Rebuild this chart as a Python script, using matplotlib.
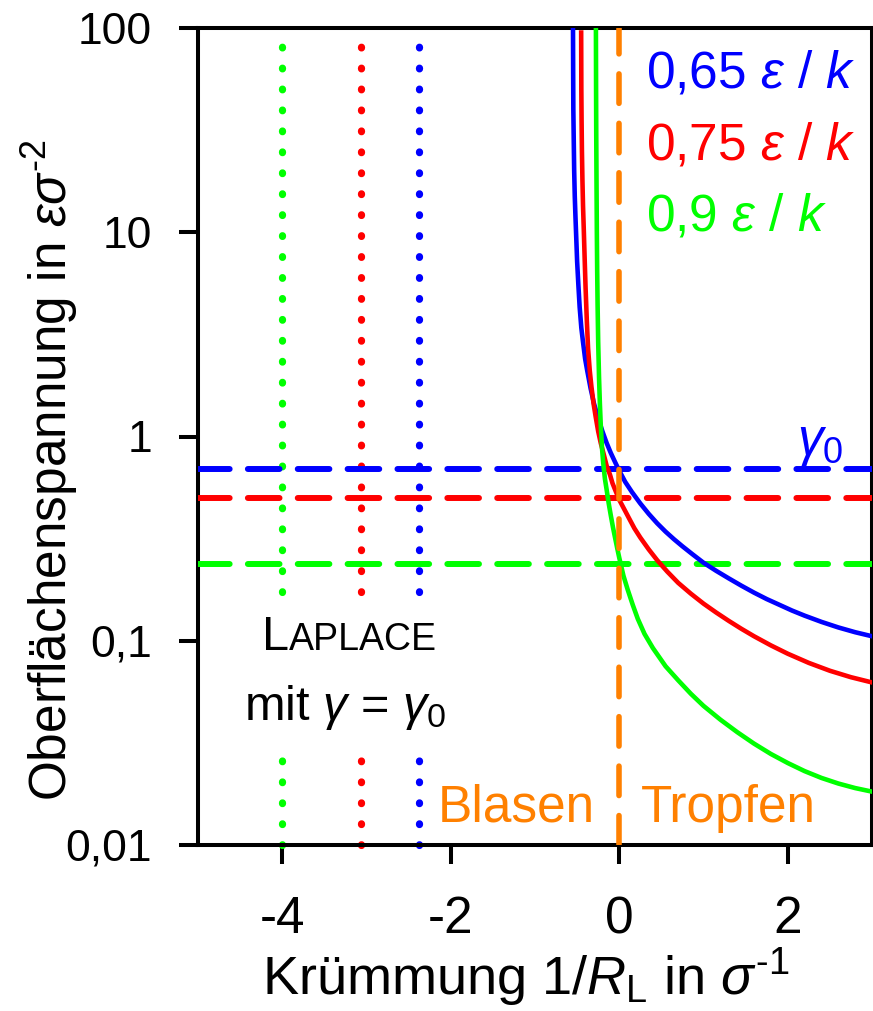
import matplotlib
matplotlib.use("Agg")
import matplotlib.pyplot as plt
from matplotlib.ticker import FixedLocator, NullLocator

plt.rcParams['font.family'] = 'Liberation Sans'
plt.rcParams['mathtext.fontset'] = 'custom'
plt.rcParams['mathtext.rm'] = 'Liberation Sans'
plt.rcParams['mathtext.it'] = 'Liberation Sans:italic'
plt.rcParams['mathtext.bf'] = 'Liberation Sans:bold'
plt.rcParams['axes.unicode_minus'] = False

# ==============================
# Daten
# ==============================

temperaturen = ["0,65", "0,75", "0,9"]
farben = ["#0000FF", "#FF0000", "#00FF00"]

# planare Oberflächenspannung gamma_0 (gestrichelte Linien)
gamma0 = [0.69, 0.50, 0.238]

# Lage der Laplace-Linien (gepunktet) in 1/R_L
laplace_x = [-2.38, -3.06, -4.0]

# Kurven gamma(1/R_L)
x_blau = [-0.549, -0.547, -0.545, -0.54, -0.535, -0.528, -0.52, -0.51, -0.50,
          -0.485, -0.47, -0.45, -0.43, -0.405, -0.38, -0.34, -0.30, -0.25,
          -0.20, -0.15, -0.10, -0.05, 0.0, 0.07, 0.15, 0.25, 0.35, 0.45,
          0.55, 0.65, 0.75, 0.87, 1.0, 1.15, 1.3, 1.45, 1.6, 1.75, 1.9,
          2.05, 2.2, 2.4, 2.6, 2.8, 3.0]
y_blau = [100, 60, 40, 28, 20, 15, 12, 9.3, 7.2,
          5.5, 4.3, 3.4, 2.9, 2.4, 2.1, 1.72, 1.45, 1.23,
          1.06, 0.93, 0.83, 0.75, 0.68, 0.60, 0.535, 0.47, 0.418, 0.376,
          0.342, 0.314, 0.29, 0.265, 0.241, 0.220, 0.202, 0.186, 0.172, 0.160,
          0.150, 0.1406, 0.1327, 0.1237, 0.1162, 0.1101, 0.1052]

x_rot = [-0.452, -0.45, -0.447, -0.443, -0.437, -0.43, -0.42, -0.41, -0.40,
         -0.385, -0.37, -0.35, -0.33, -0.305, -0.28, -0.25, -0.22, -0.185,
         -0.15, -0.11, -0.08, -0.04, 0.0, 0.06, 0.12, 0.18, 0.25, 0.35,
         0.45, 0.57, 0.7, 0.85, 1.0, 1.15, 1.3, 1.45, 1.6, 1.8, 2.0,
         2.25, 2.5, 2.75, 3.0]
y_rot = [95, 50, 35, 25, 18, 13.5, 10, 7.3, 5.4,
         3.7, 2.7, 2.1, 1.75, 1.45, 1.25, 1.06, 0.93, 0.82,
         0.72, 0.65, 0.59, 0.537, 0.49, 0.44, 0.395, 0.355, 0.32, 0.28,
         0.248, 0.218, 0.192, 0.170, 0.152, 0.1375, 0.1251, 0.1144, 0.1052,
         0.0949, 0.0864, 0.0779, 0.0713, 0.0663, 0.0625]

x_gruen = [-0.277, -0.275, -0.273, -0.27, -0.266, -0.262, -0.257, -0.25,
           -0.24, -0.23, -0.22, -0.205, -0.19, -0.17, -0.15, -0.125, -0.10,
           -0.075, -0.05, -0.025, 0.0, 0.05, 0.1, 0.16, 0.22, 0.3, 0.4,
           0.55, 0.7, 0.85, 1.0, 1.2, 1.4, 1.6, 1.8, 2.0, 2.2, 2.4, 2.6,
           2.8, 3.0]
y_gruen = [100, 50, 30, 18, 10, 6.5, 4.4, 2.9,
           1.95, 1.45, 1.15, 0.88, 0.74, 0.62, 0.55, 0.47, 0.41,
           0.36, 0.32, 0.285, 0.255, 0.208, 0.178, 0.15, 0.128, 0.108, 0.092,
           0.075, 0.064, 0.055, 0.048, 0.0411, 0.0357, 0.03135, 0.0279, 0.0252,
           0.0230, 0.0213, 0.0200, 0.0190, 0.01825]

x_ticks = [-4, -2, 0, 2]
x_tick_labels = ["-4", "-2", "0", "2"]
y_ticks = [0.01, 0.1, 1, 10, 100]
y_tick_labels = ["0,01", "0,1", "1", "10", "100"]

# ==============================
# Abbildung
# ==============================

fig = plt.figure(figsize=(8.73, 10.11), dpi=100)
ax = fig.add_axes([198 / 873, 1 - 845 / 1011, 674 / 873, 817 / 1011])
ax.set_yscale('log')
ax.set_xlim(-5, 3)
ax.set_ylim(0.01, 100)

# Laplace-Linien (gepunktet, mit Lücke für den Text)
for xl, farbe in zip(laplace_x, farben):
    ax.plot([xl, xl], [0.174, 100], color=farbe, lw=5.2,
            dashes=(0.1, 2.8), dash_capstyle='round', zorder=2)
    ax.plot([xl, xl], [0.01, 0.026], color=farbe, lw=5.2,
            dashes=(0.1, 2.8), dash_capstyle='round', zorder=2, clip_on=False)

# gamma_0 (gestrichelt)
for g0, farbe in zip(gamma0, farben):
    ax.plot([-5, 3], [g0, g0], color=farbe, lw=4.3,
            dashes=(5.3, 3.05), dash_capstyle='round', zorder=3)

# Kurven
ax.plot(x_blau, y_blau, color=farben[0], lw=3.3, zorder=4)
ax.plot(x_rot, y_rot, color=farben[1], lw=3.3, zorder=4)
ax.plot(x_gruen, y_gruen, color=farben[2], lw=3.3, zorder=4)

# Trennlinie Blasen / Tropfen
ax.plot([0, 0], [0.01, 100], color='#FF8000', lw=4.0,
        dashes=(5.3, 3.6), dash_capstyle='round', zorder=5)

# Beschriftungen im Diagramm
legend_y = [51.4, 22.8, 10.2]
for t, farbe, yy in zip(temperaturen, farben, legend_y):
    ax.text(0.32, yy, t + r" $\varepsilon$ / $k$", color=farbe,
            fontsize=37, ha='left', va='baseline')

ax.text(2.39, 0.816, r"$\gamma_0$", color=farben[0], fontsize=37,
        ha='center', va='baseline')

ax.text(-3.92, 0.0903, "L", fontsize=35, ha='right', va='baseline')
ax.text(-3.92, 0.0903, "APLACE", fontsize=27, ha='left', va='baseline')
ax.text(-3.25, 0.041, r"mit $\gamma$ = $\gamma_0$", fontsize=35,
        ha='center', va='baseline')

ax.text(-0.29, 0.013, "Blasen", color='#FF8000', fontsize=37,
        ha='right', va='baseline')
ax.text(0.26, 0.013, "Tropfen", color='#FF8000', fontsize=37,
        ha='left', va='baseline')

# Achsen
ax.set_xticks(x_ticks)
ax.set_xticklabels(x_tick_labels)
ax.yaxis.set_major_locator(FixedLocator(y_ticks))
ax.set_yticklabels(y_tick_labels)
ax.yaxis.set_minor_locator(NullLocator())
ax.xaxis.set_minor_locator(NullLocator())
ax.tick_params(axis='both', direction='out', length=14, width=2.9,
               top=False, right=False)
ax.tick_params(axis='x', labelsize=37, pad=22)
ax.tick_params(axis='y', labelsize=32, pad=19)
for s in ax.spines.values():
    s.set_linewidth(2.9)

fig.text(526 / 873, 1 - 995 / 1011,
         "Krümmung 1/$R_{\\mathrm{L}}$ in $\\sigma^{\\mathrm{\u20101}}$",
         fontsize=39, ha='center', va='baseline')
fig.text(67 / 873, 1 - 470 / 1011,
         "Oberflächenspannung in $\\varepsilon\\sigma^{\\mathrm{\u20102}}$",
         fontsize=37, rotation=90, rotation_mode='anchor',
         ha='center', va='baseline')

fig.savefig("out.png", dpi=100)
